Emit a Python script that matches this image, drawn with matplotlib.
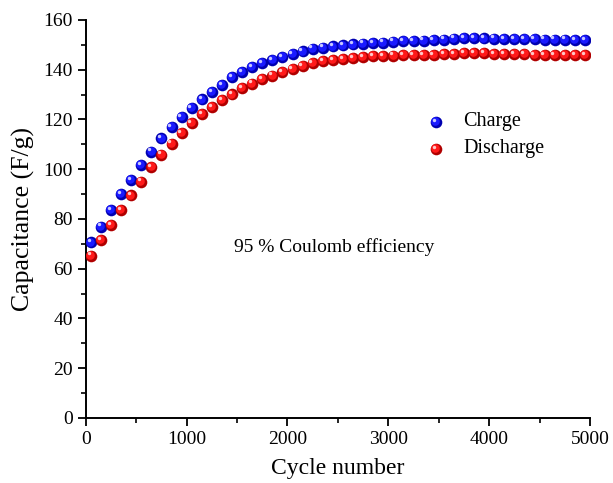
import numpy as np
import matplotlib
matplotlib.use("Agg")
import matplotlib.pyplot as plt
from matplotlib.ticker import MultipleLocator
from matplotlib.transforms import ScaledTranslation

plt.rcParams['font.family'] = ['Liberation Serif', 'DejaVu Serif']

# cycle number of each sampled point
cycles = np.arange(50, 5000, 100)

charge = [70.6, 76.9, 83.5, 90.0, 95.7, 101.6, 107.1, 112.4, 116.9, 121.1,
          124.7, 128.1, 131.1, 133.9, 137.0, 139.0, 141.0, 142.8, 143.9, 145.2,
          146.3, 147.4, 148.5, 148.9, 149.4, 149.8, 150.2, 150.5, 150.8, 150.9,
          151.3, 151.5, 151.6, 151.7, 152.0, 152.1, 152.5, 152.8, 152.8, 152.6,
          152.5, 152.4, 152.3, 152.3, 152.3, 152.1, 152.1, 152.1, 152.0, 152.0]

discharge = [65.3, 71.6, 77.6, 83.6, 89.5, 95.0, 100.9, 105.9, 110.3, 114.6,
             118.5, 122.1, 125.0, 127.8, 130.1, 132.7, 134.4, 136.3, 137.6, 139.2,
             140.4, 141.6, 142.6, 143.4, 143.9, 144.4, 144.8, 145.1, 145.4, 145.5,
             145.7, 145.8, 145.9, 145.9, 146.0, 146.2, 146.4, 146.7, 146.7, 146.6,
             146.4, 146.3, 146.2, 146.2, 146.0, 146.0, 145.9, 145.9, 145.9, 145.9]

labels = ['Charge', 'Discharge']
blue = ('#0000b0', '#1a1aff', '#c8c8ff')
red = ('#b00000', '#ff1a1a', '#ffc8c8')

fig = plt.figure(figsize=(6.13, 4.83), dpi=100)
ax = fig.add_axes([0.140, 0.1346, 0.8225, 0.824])


def shaded(ax, x, y, colors, trans):
    # fake a glossy sphere: dark rim, body, and a small highlight up-left
    dark, mid, light = colors
    ax.scatter(x, y, s=70, color=dark, linewidths=0, zorder=3, transform=trans)
    off = ScaledTranslation(-0.6 / 72, 0.6 / 72, fig.dpi_scale_trans)
    ax.scatter(x, y, s=38, color=mid, linewidths=0, zorder=4, transform=trans + off)
    off2 = ScaledTranslation(-1.6 / 72, 1.6 / 72, fig.dpi_scale_trans)
    ax.scatter(x, y, s=6, color=light, linewidths=0, zorder=5, transform=trans + off2)


shaded(ax, cycles, charge, blue, ax.transData)
shaded(ax, cycles, discharge, red, ax.transData)

ax.set_xlim(0, 5000)
ax.set_ylim(0, 160)
ax.xaxis.set_major_locator(MultipleLocator(1000))
ax.xaxis.set_minor_locator(MultipleLocator(500))
ax.yaxis.set_major_locator(MultipleLocator(20))
ax.yaxis.set_minor_locator(MultipleLocator(10))

for s in ['top', 'right']:
    ax.spines[s].set_visible(False)
for s in ['left', 'bottom']:
    ax.spines[s].set_linewidth(1.4)

ax.tick_params(which='major', direction='out', length=6, width=1.3, labelsize=14)
ax.tick_params(which='minor', direction='out', length=3.5, width=1.2)

ax.set_xlabel('Cycle number', fontsize=17, labelpad=7)
ax.set_ylabel('Capacitance (F/g)', fontsize=18.5, labelpad=6)

ax.text(2460, 68.7, '95 % Coulomb efficiency', fontsize=14, ha='center', va='center')

# legend entries
lx = 0.695
for i, (lab, colors) in enumerate(zip(labels, [blue, red])):
    ly = 0.744 - i * 0.068
    shaded(ax, [lx], [ly], colors, ax.transAxes)
    ax.text(lx + 0.053, ly, lab, fontsize=14.5, va='center', transform=ax.transAxes)

fig.savefig('out.png', dpi=100)
